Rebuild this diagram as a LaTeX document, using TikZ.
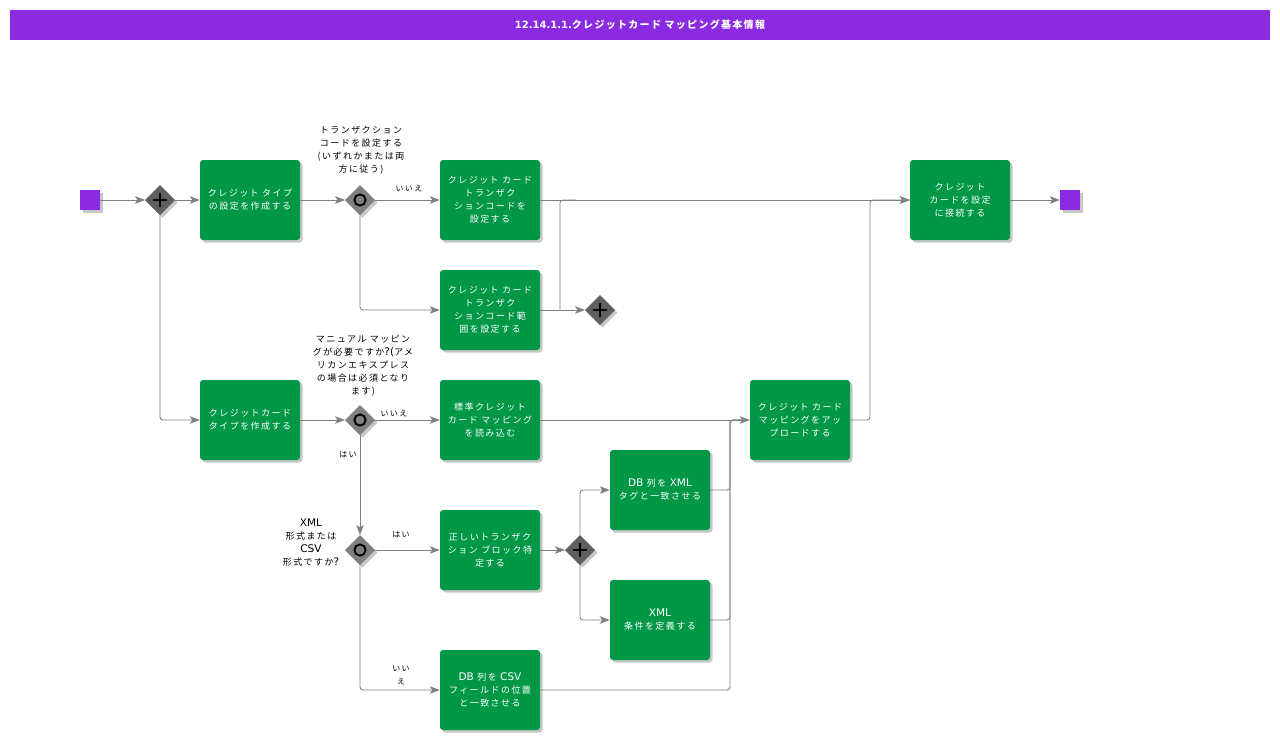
\documentclass[tikz,border=0pt]{standalone}
\usepackage{fontspec}
\setmainfont{Noto Sans CJK JP}
\newfontfamily\jpf[LetterSpace=16]{Noto Sans CJK JP}
\newfontfamily\jptf[LetterSpace=13]{Noto Sans CJK JP}
\newfontfamily\latf{DejaVu Sans}
\newcommand{\La}[1]{{\latf\fontsize{10.5}{13}\selectfont #1}}
\usetikzlibrary{shapes.geometric,arrows.meta,shadows,calc}
\definecolor{purp}{RGB}{138,43,226}
\definecolor{taskg}{RGB}{0,152,71}
\definecolor{edgeg}{RGB}{128,128,128}
\definecolor{gwdark}{RGB}{95,95,95}
\definecolor{gwlight}{RGB}{128,128,128}
\tikzset{
  shad/.style={drop shadow={shadow xshift=2.5pt, shadow yshift=-2.5pt, opacity=0.22, fill=black}},
  task/.style={fill=taskg, rounded corners=3pt, minimum width=100pt, minimum height=80pt,
    inner sep=2pt, text=white, align=center, font=\jpf\fontsize{9}{13}\selectfont, shad},
  gw/.style={shape=diamond, minimum width=30pt, minimum height=30pt, inner sep=0pt, outer sep=0pt, shad},
  plusgw/.style={gw, fill=gwdark, path picture={
      \draw[line width=2.4pt, black]
        ([xshift=-7pt]path picture bounding box.center) -- ([xshift=7pt]path picture bounding box.center)
        ([yshift=-7pt]path picture bounding box.center) -- ([yshift=7pt]path picture bounding box.center);}},
  xorgw/.style={gw, fill=gwlight, path picture={
      \draw[line width=1.9pt, black] (path picture bounding box.center) circle[radius=5.6pt];}},
  ev/.style={fill=purp, minimum width=20pt, minimum height=20pt, inner sep=0pt, shad},
  flow/.style={draw=edgeg, line width=0.9pt, rounded corners=3pt, -{Stealth[length=10pt,width=7.5pt,inset=2.5pt]}},
  plain/.style={draw=edgeg, line width=0.9pt, rounded corners=3pt},
  note/.style={align=center, text=black, font=\jpf\fontsize{9}{13}\selectfont, inner sep=0pt},
  lab/.style={text=black, font=\jpf\fontsize{8}{13}\selectfont, inner sep=0pt, align=center}
}
\begin{document}
\begin{tikzpicture}[x=1pt,y=-1pt]
\useasboundingbox (0,0) rectangle (1280,740);
\fill[white] (0,0) rectangle (1280,740);
% title
\node[fill=purp, minimum width=1260pt, minimum height=30pt, inner sep=0pt, text=white,
  font=\jptf\bfseries\fontsize{10}{12}\selectfont] (title) at (640,25)
  {{\latf\bfseries\fontsize{10}{12}\selectfont 12.14.1.1.}クレジットカード マッピング基本情報};
% events
\node[ev] (start) at (90,200) {};
\node[ev] (end) at (1070,200) {};
% gateways
\node[plusgw] (g1) at (160,200) {};
\node[xorgw] (g2) at (360,200) {};
\node[plusgw] (g6) at (600,310) {};
\node[xorgw] (g3) at (360,420) {};
\node[xorgw] (g4) at (360,550) {};
\node[plusgw] (g5) at (580,550) {};
% tasks
\node[task] (A) at (250,200) {クレジット タイプ\\の設定を作成する};
\node[task] (B) at (490,200) {クレジット カード\\トランザク\\ションコードを\\設定する};
\node[task] (C) at (490,310) {クレジット カード\\トランザク\\ションコード範\\囲を設定する};
\node[task] (D) at (960,200) {クレジット\\カードを設定\\に接続する};
\node[task] (E) at (250,420) {クレジットカード\\タイプを作成する};
\node[task] (F) at (490,420) {標準クレジット\\カード マッピング\\を読み込む};
\node[task] (G) at (800,420) {クレジット カード\\マッピングをアッ\\プロードする};
\node[task] (H) at (490,550) {正しいトランザク\\ション ブロック特\\定する};
\node[task] (I) at (660,490) {\La{DB} 列を \La{XML}\\タグと一致させる};
\node[task] (J) at (660,620) {\La{XML}\\条件を定義する};
\node[task] (K) at (490,690) {\La{DB} 列を \La{CSV}\\フィールドの位置\\と一致させる};
% annotations
\node[note] (n1) at (361,150) {トランザクション\\コードを設定する\\(いずれかまたは両\\方に従う)};
\node[note] (n2) at (363,366) {マニュアル マッピン\\グが必要ですか\La{?(}アメ\\リカンエキスプレス\\の場合は必須となり\\ます)};
\node[note] (n3) at (311,543) {\La{XML}\\形式または\\\La{CSV}\\形式ですか\La{?}};
% junction coordinates
\coordinate (jC) at (560,310);
\coordinate (jB) at (560,200);
\coordinate (jBr) at (576,200);
\coordinate (m1) at (730,420);
\coordinate (m1r) at (742,420);
\coordinate (m2) at (870,200);
% connectors
\draw[flow] (start) -- (g1);
\draw[flow] (g1) -- (A);
\draw[flow] (g1) |- (E);
\draw[flow] (A) -- (g2);
\draw[flow] (g2) -- (B);
\draw[flow] (g2) |- (C);
\draw[flow] (B) -- (D);
\draw[flow] (C) -- (g6);
\draw[plain] (jC) -- (jB) -- (jBr);
\draw[flow] (D) -- (end);
\draw[flow] (E) -- (g3);
\draw[flow] (g3) -- (F);
\draw[flow] (g3) -- (g4);
\draw[flow] (g4) -- (H);
\draw[flow] (g4) |- (K);
\draw[flow] (H) -- (g5);
\draw[flow] (g5) |- (I);
\draw[flow] (g5) |- (J);
\draw[flow] (F) -- (G);
\draw[plain] (I.east) -| (m1) -- (m1r);
\draw[plain] (J.east) -| (m1) -- (m1r);
\draw[plain] (K.east) -| (m1) -- (m1r);
\draw[flow] (G.east) -| (m2) -- (D);
% edge labels
\node[lab] (l1) at (409,189) {いいえ};
\node[lab] (l2) at (394,414) {いいえ};
\node[lab] (l3) at (348,455) {はい};
\node[lab] (l4) at (401,535) {はい};
\node[lab] (l5) at (401,675) {いい\\え};
\end{tikzpicture}
\end{document}
